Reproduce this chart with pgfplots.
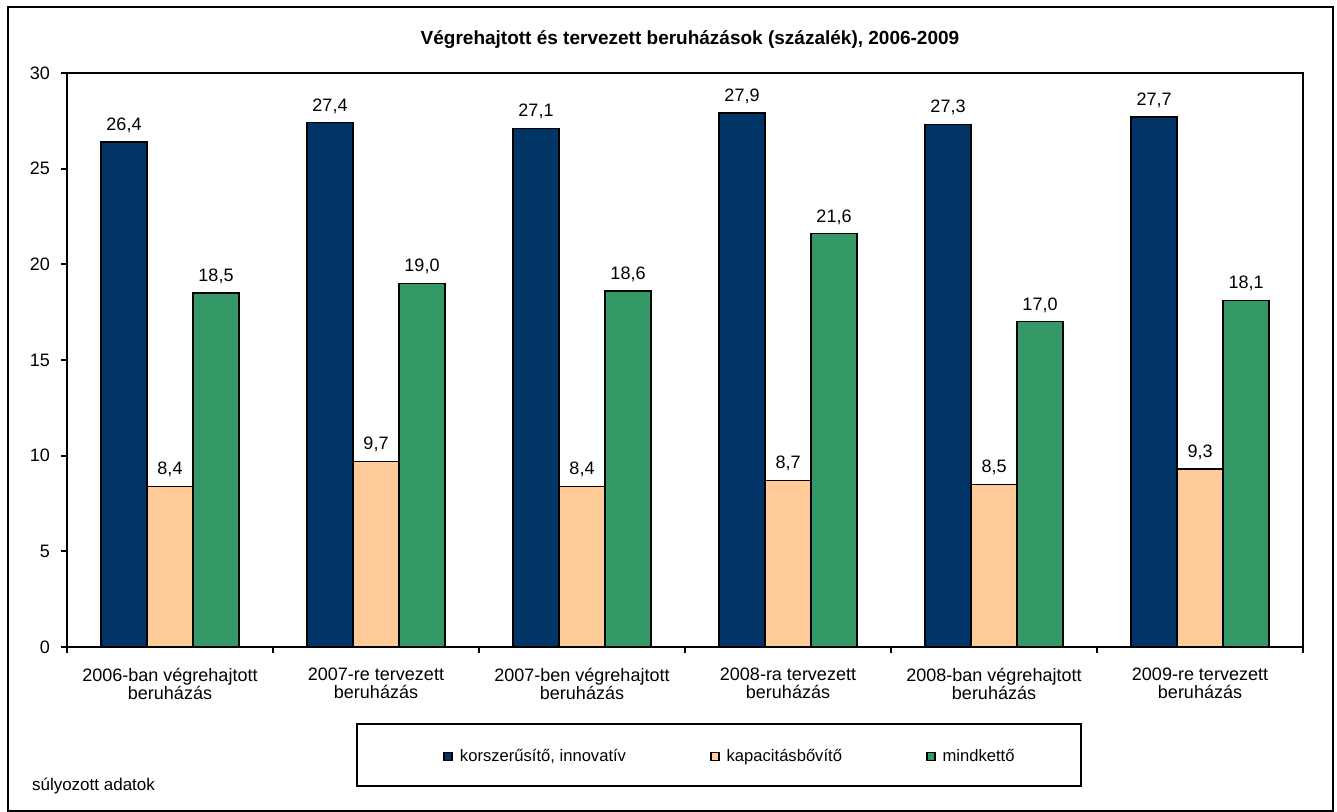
\documentclass[border=0pt]{standalone}
\usepackage{fontspec}
\setmainfont{Liberation Sans}
\usepackage{pgfplots}
\pgfplotsset{compat=1.18}
\definecolor{navy}{HTML}{003366}
\definecolor{peach}{HTML}{FFCC99}
\definecolor{grn}{HTML}{339966}

\newcommand{\sz}{\fontsize{9}{9}\selectfont}

\begin{document}
\begin{tikzpicture}
\useasboundingbox (0,0) rectangle (668.5pt,-406pt);
\begin{scope}[x=0.5pt,y=-0.5pt]
  % outer frame, title, legend box, note (pixel coordinates)
  \draw[line width=1pt] (8,7) rectangle (1333,811);
  \node[font=\fontsize{9.5}{11}\selectfont\bfseries] at (690,40)
    {Végrehajtott és tervezett  beruházások (százalék), 2006-2009};
  \draw[line width=1pt] (357,724) rectangle (1081,786);
  \node[font=\fontsize{8.5}{9}\selectfont, anchor=west] at (25,786) {súlyozott adatok};
\end{scope}

\begin{axis}[
    at={(33.5pt,-323.5pt)}, anchor=south west,
    width=618pt, height=287pt, scale only axis,
    xmin=-0.5, xmax=5.5, ymin=0, ymax=30,
    ybar=0pt, bar width=23pt,
    axis line style={line width=1pt},
    tick align=outside, major tick length=3pt,
    every tick/.style={black, line width=1pt},
    xtick pos=bottom, ytick pos=left,
    ytick={0,5,...,30},
    xtick={0,...,5},
    xticklabels={
      {2006-ban  végrehajtott\\beruházás},
      {2007-re  tervezett\\beruházás},
      {2007-ben  végrehajtott\\beruházás},
      {2008-ra  tervezett\\beruházás},
      {2008-ban  végrehajtott\\beruházás},
      {2009-re  tervezett\\beruházás}},
    major x tick style={draw=none},
    extra x ticks={-0.5,0.5,...,5.5},
    extra x tick labels={},
    extra x tick style={major tick length=3pt, major x tick style={draw=black}},
    xticklabel style={font=\sz, align=center, yshift=-4pt},
    yticklabel style={font=\sz, xshift=-2pt},
    /pgf/number format/assume math mode=true,
    nodes near coords={\pgfmathprintnumber[fixed,fixed zerofill,precision=1,use comma,assume math mode=true]{\pgfplotspointmeta}},
    every node near coord/.append style={font=\sz, black, yshift=1pt},
    legend columns=3,
    legend style={at={(0.3042,-0.1910)}, anchor=west, draw=none, fill=none,
      inner sep=0pt, font=\fontsize{8.3}{9}\selectfont,
      /tikz/every odd column/.style={column sep=1.5pt},
      /tikz/every even column/.style={column sep=40pt}},
]
\addplot[fill=navy, draw=black, line width=0.75pt,
  legend image code/.code={\draw[fill=navy,draw=black,line width=0.8pt] (0pt,-2pt) rectangle (4pt,2pt);}]
  coordinates {(0,26.4) (1,27.4) (2,27.1) (3,27.9) (4,27.3) (5,27.7)};
\addplot[fill=peach, draw=black, line width=0.75pt,
  legend image code/.code={\draw[fill=peach,draw=black,line width=0.8pt] (0pt,-2pt) rectangle (4pt,2pt);}]
  coordinates {(0,8.4) (1,9.7) (2,8.4) (3,8.7) (4,8.5) (5,9.3)};
\addplot[fill=grn, draw=black, line width=0.75pt,
  legend image code/.code={\draw[fill=grn,draw=black,line width=0.8pt] (0pt,-2pt) rectangle (4pt,2pt);}]
  coordinates {(0,18.5) (1,19.0) (2,18.6) (3,21.6) (4,17.0) (5,18.1)};
\legend{{korszerűsítő, innovatív},kapacitásbővítő,mindkettő}
\end{axis}
\end{tikzpicture}
\end{document}
